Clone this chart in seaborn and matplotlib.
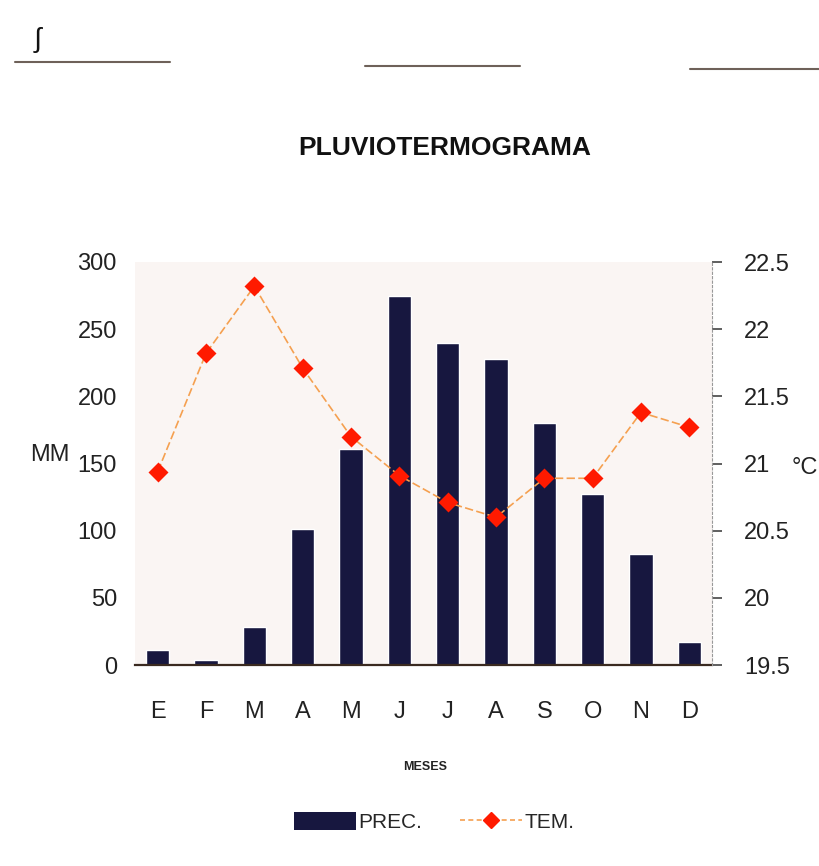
import numpy as np
import pandas as pd
import matplotlib
matplotlib.use("Agg")
from matplotlib import pyplot as plt
from matplotlib.patches import Patch
from matplotlib.lines import Line2D
import seaborn as sns

# monthly data
meses = ['Ene', 'Feb', 'Mar', 'Abr', 'May', 'Jun', 'Jul', 'Ago', 'Sep', 'Oct', 'Nov', 'Dic']
letras = ['E', 'F', 'M', 'A', 'M', 'J', 'J', 'A', 'S', 'O', 'N', 'D']
prec = [11, 4, 28, 101, 161, 275, 240, 228, 180, 127, 83, 17]
temp = [20.94, 21.82, 22.32, 21.71, 21.20, 20.91, 20.71, 20.60, 20.89, 20.89, 21.38, 21.27]
temp_ticks = [19.5, 20, 20.5, 21, 21.5, 22, 22.5]
temp_labels = ['19.5', '20', '20.5', '21', '21.5', '22', '22.5']

df = pd.DataFrame({'mes': meses, 'prec': prec, 'temp': temp})

sns.set_style('white')
plt.rcParams['font.family'] = ['Liberation Sans', 'DejaVu Sans']

W, H = 819, 866
fig = plt.figure(figsize=(W / 100, H / 100), dpi=100)
ax = fig.add_axes([135 / W, 1 - 665 / H, (712 - 135) / W, (665 - 262) / H])
ax.set_facecolor('#faf5f3')

sns.barplot(data=df, x='mes', y='prec', color='#17173f', saturation=1,
            width=0.48, ax=ax)
ax.set_ylim(0, 300)
ax.set_yticks(range(0, 301, 50))
ax.set_xlabel('')
ax.set_ylabel('')
ax.set_xticks(range(12))
ax.set_xticklabels(letras)
ax.tick_params(axis='x', length=0, pad=26, labelsize=17, labelcolor='#222222')
ax.tick_params(axis='y', length=0, pad=13, labelsize=17, labelcolor='#222222')
for s in ['left', 'top', 'right']:
    ax.spines[s].set_visible(False)
ax.spines['bottom'].set_color('#3a2a20')
ax.spines['bottom'].set_linewidth(1.6)

ax2 = ax.twinx()
sns.pointplot(data=df, x='mes', y='temp', color='#f5a050', markers='',
              linestyles=(0, (5, 2)), linewidth=1.2, ax=ax2)
sns.pointplot(data=df, x='mes', y='temp', color='#ff1a00', markers='D',
              linestyles='none', markersize=8, ax=ax2)
ax2.set_ylim(19.5, 22.5)
ax2.set_yticks(temp_ticks)
ax2.set_yticklabels(temp_labels)
ax2.set_ylabel('')
ax2.set_xlabel('')
ax2.tick_params(axis='y', direction='out', length=7, width=1.2, pad=16,
                labelsize=17, labelcolor='#222222', color='#444444')
for s in ['left', 'top', 'bottom']:
    ax2.spines[s].set_visible(False)
ax2.spines['right'].set_color('#999999')
ax2.spines['right'].set_linestyle((0, (2, 2)))
ax2.spines['right'].set_linewidth(0.8)
ax.set_xlim(-0.47, 11.47)
ax2.set_xlim(-0.47, 11.47)

fig.text(445 / W, 1 - 148 / H, 'PLUVIOTERMOGRAMA', ha='center', va='center',
         fontsize=19, fontweight='bold', color='#111111')
fig.text(50 / W, 1 - 455 / H, 'MM', ha='center', va='center', fontsize=17, color='#222222')
fig.text(805 / W, 1 - 468 / H, '°C', ha='center', va='center', fontsize=17, color='#222222')
fig.text(425 / W, 1 - 767 / H, 'MESES', ha='center', va='center', fontsize=9,
         fontweight='bold', color='#222222')

handles = [Patch(facecolor='#17173f', edgecolor='none'),
           Line2D([0], [0], color='#f5a050', linestyle=(0, (3, 2)), lw=1.2,
                  marker='D', markerfacecolor='#ff1a00', markeredgecolor='#ff1a00', markersize=8)]
fig.legend(handles, ['PREC.', 'TEM.'], loc='center', ncol=2,
           bbox_to_anchor=(434 / W, 1 - 822 / H), frameon=False, fontsize=15,
           handlelength=3.0, handleheight=1.0, handletextpad=0.1, columnspacing=1.8)

# scanner streaks along the top edge
for x0, x1, y in [(15, 170, 62), (365, 520, 66), (690, 819, 69)]:
    fig.add_artist(Line2D([x0 / W, x1 / W], [1 - y / H, 1 - y / H], color='#4a3a30',
                          lw=1.5, alpha=0.8))
fig.text(38 / W, 1 - 40 / H, 'ʃ', fontsize=20, color='#111111', ha='center', va='center')

fig.savefig('out.png', dpi=100)
